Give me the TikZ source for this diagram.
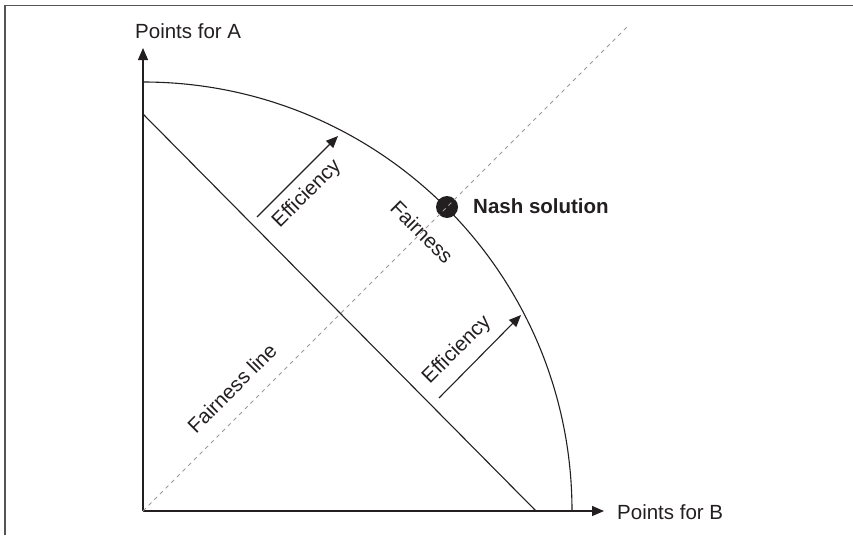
\documentclass[tikz,border=0pt]{standalone}
\usepackage{fontspec}
\setmainfont{Liberation Sans}
\usetikzlibrary{arrows.meta}
\definecolor{ink}{HTML}{231F20}
\definecolor{frame}{HTML}{555555}
\definecolor{dash}{HTML}{9A9A9A}
\tikzset{
  lbl/.style={font=\fontsize{20.5}{24}\selectfont, text=ink, inner sep=0pt},
  axis/.style={draw=ink, line width=1.1pt, -{Triangle[length=12pt,width=10pt]}},
  effarrow/.style={draw=ink, line width=1.1pt, -{Triangle[length=12pt,width=10pt]}},
  thinline/.style={draw=ink, line width=1.1pt},
  fairdash/.style={draw=dash, line width=0.8pt, dash pattern=on 4pt off 4pt},
  border/.style={draw=frame, line width=1.6pt}
}
\begin{document}
\begin{tikzpicture}[x=1pt,y=-1pt]
\useasboundingbox (0,0) rectangle (853,535);
% frame
\coordinate (fa) at (4.7,535);
\coordinate (fb) at (4.7,5.6);
\coordinate (fc) at (853,5.6);
\draw[border] (fa) -- (fb) -- (fc);
% key points
\coordinate (O) at (143,511);
\coordinate (ytip) at (143,48);
\coordinate (xtip) at (604,511);
\coordinate (cright) at (572,511);
\coordinate (ltop) at (143,114);
\coordinate (lbot) at (536,511);
\coordinate (dend) at (628,26);
% axes
\draw[axis] (O) -- (ytip);
\draw[axis] (O) -- (xtip);
% frontier curve
\draw[thinline] (cright) arc[start angle=0,end angle=-90,radius=429];
% straight line
\draw[thinline] (ltop) -- (lbot);
% efficiency arrows
\coordinate (e1a) at (257,217);
\coordinate (e1b) at (338,136);
\coordinate (e2a) at (439,398);
\coordinate (e2b) at (521,315);
\draw[effarrow] (e1a) -- (e1b);
\draw[effarrow] (e2a) -- (e2b);
% Nash point
\node[circle, fill=ink, minimum size=22pt, inner sep=0pt] (nash) at (447,207) {};
% dashed fairness line (drawn over the Nash point)
\draw[fairdash] (O) -- (dend);
% labels
\node[lbl, anchor=base west] (pa) at (135,38) {Points for A};
\node[lbl, anchor=base west] (pb) at (617,519) {Points for B};
\node[lbl, anchor=base west, font=\fontsize{20.5}{24}\selectfont\bfseries] (ns) at (473,213) {Nash solution};
\node[lbl, rotate=45] (eff1) at (307,194) {Efficiency};
\node[lbl, rotate=45] (eff2) at (457,350) {Efficiency};
\node[lbl, rotate=-45] (fair) at (422,232) {Fairness};
\node[lbl, rotate=45] (fl) at (232,388) {Fairness line};
\end{tikzpicture}
\end{document}
